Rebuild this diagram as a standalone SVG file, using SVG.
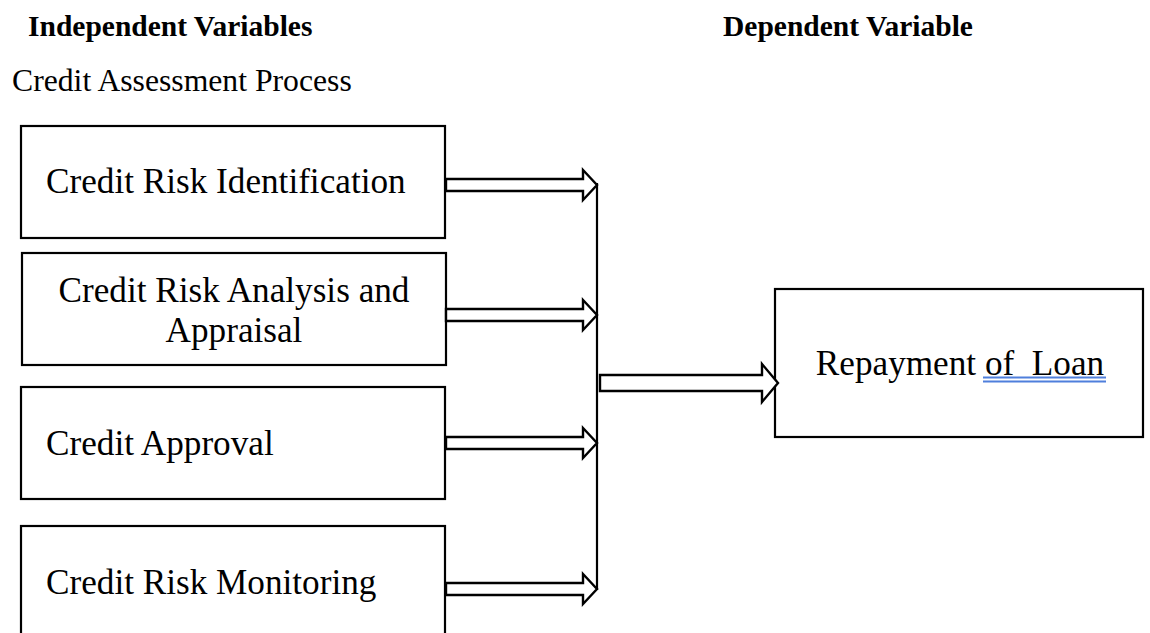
<svg xmlns="http://www.w3.org/2000/svg" width="1150" height="633" viewBox="0 0 1150 633">
<style>
  .box { fill: #ffffff; stroke: #000000; stroke-width: 2.2; }
  .hdr { font-family: "Liberation Serif", "Times New Roman", serif; font-weight: bold; font-size: 29.5px; fill: #000000; }
  .body { font-family: "Liberation Serif", "Times New Roman", serif; font-size: 31.7px; fill: #000000; }
  .lbl { font-family: "Liberation Serif", "Times New Roman", serif; font-size: 35.2px; fill: #000000; }
  .arr { fill: #ffffff; stroke: #000000; stroke-width: 2.4; stroke-linejoin: miter; }
  .ln { fill: none; stroke: #000000; stroke-width: 2.2; }
  .ul { stroke: #4f7fdc; stroke-width: 2; }
</style>
<defs>
  <path id="smallArrow" d="M0,-6 L137,-6 L137,-15 L151,0 L137,15 L137,6 L0,6 Z"/>
</defs>
<rect x="0" y="0" width="1150" height="633" fill="#ffffff"/>

<g id="header-independent">
  <text class="hdr" x="28" y="36">Independent Variables</text>
</g>
<g id="header-dependent">
  <text class="hdr" x="723" y="36">Dependent Variable</text>
</g>
<g id="label-process">
  <text class="body" x="12" y="91">Credit Assessment Process</text>
</g>

<g id="node-identification">
  <rect class="box" x="21" y="126" width="424" height="112"/>
  <text class="lbl" x="46" y="193">Credit Risk Identification</text>
</g>
<g id="node-analysis">
  <rect class="box" x="22" y="253" width="424" height="112"/>
  <text class="lbl" x="234" y="302" text-anchor="middle">Credit Risk Analysis and</text>
  <text class="lbl" x="234" y="342" text-anchor="middle">Appraisal</text>
</g>
<g id="node-approval">
  <rect class="box" x="21" y="387" width="424" height="112"/>
  <text class="lbl" x="46" y="455">Credit Approval</text>
</g>
<g id="node-monitoring">
  <rect class="box" x="21" y="526" width="424" height="120"/>
  <text class="lbl" x="46" y="594">Credit Risk Monitoring</text>
</g>
<g id="node-repayment">
  <rect class="box" x="775" y="289" width="368" height="148"/>
  <text class="lbl" x="960" y="375" text-anchor="middle" xml:space="preserve">Repayment of  Loan</text>
  <line class="ul" x1="983" y1="377.5" x2="1106" y2="377.5"/>
  <line class="ul" x1="983" y1="381.5" x2="1106" y2="381.5"/>
</g>

<g id="connectors">
  <line class="ln" x1="597" y1="183" x2="597" y2="590"/>
  <use href="#smallArrow" class="arr" transform="translate(446,185)"/>
  <use href="#smallArrow" class="arr" transform="translate(446,315)"/>
  <use href="#smallArrow" class="arr" transform="translate(446,443)"/>
  <use href="#smallArrow" class="arr" transform="translate(446,589)"/>
  <path class="arr" d="M600,375 L762,375 L762,364 L778,383 L762,402 L762,391 L600,391 Z"/>
</g>
</svg>
